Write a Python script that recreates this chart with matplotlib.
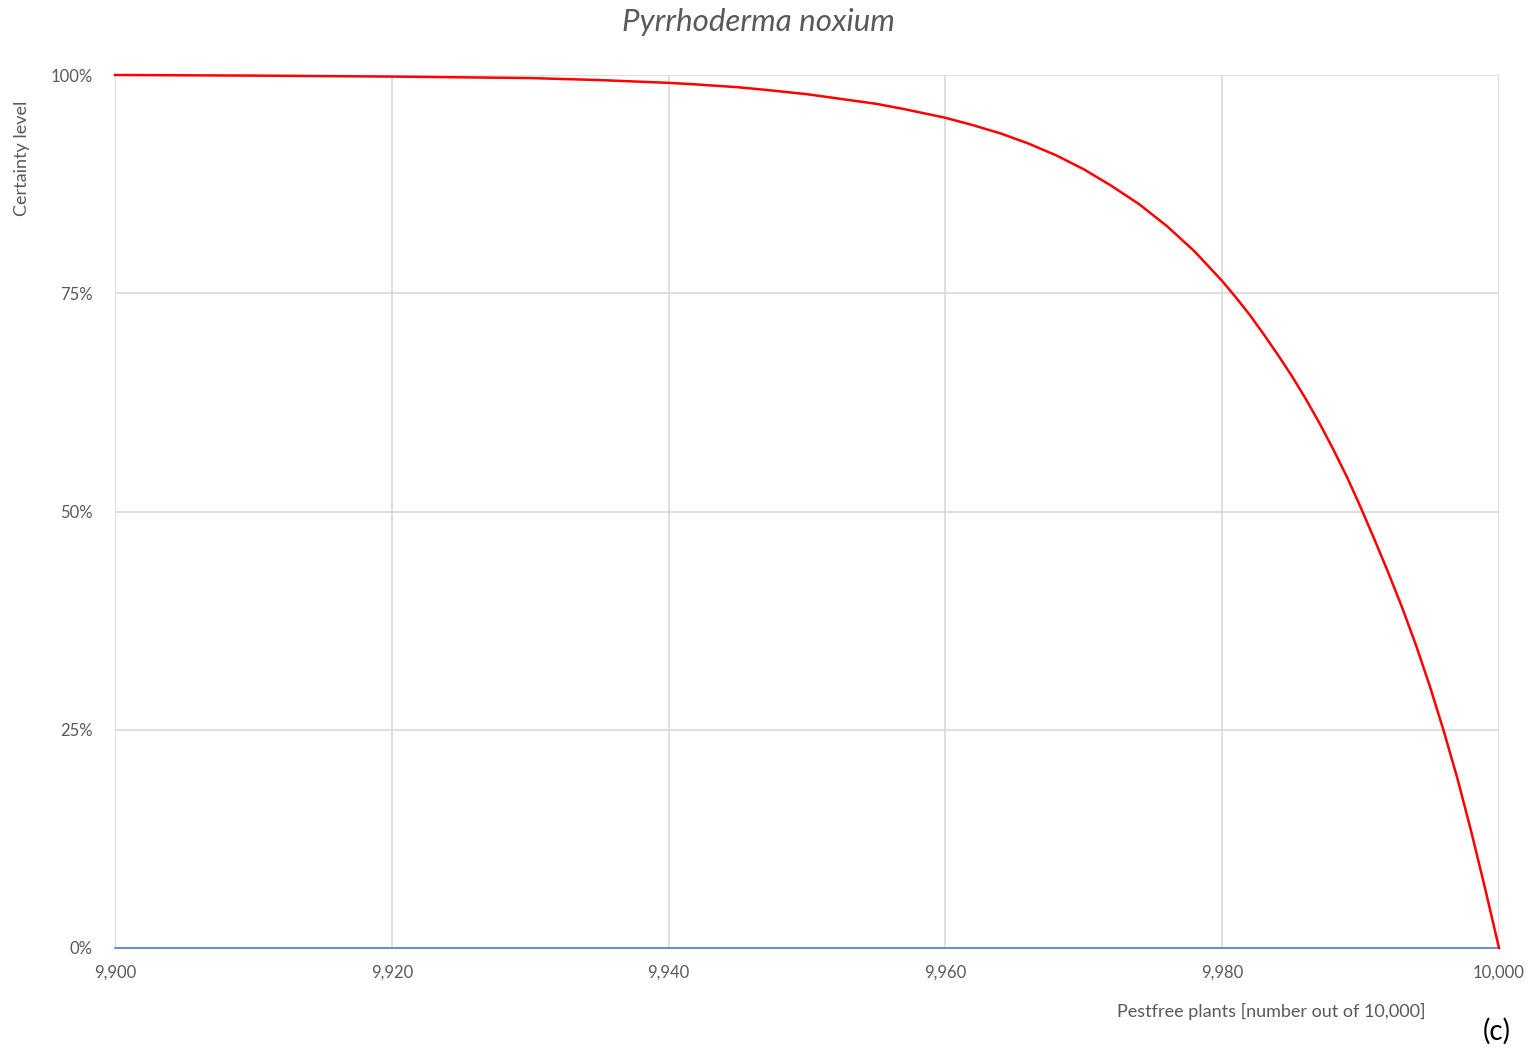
import matplotlib
matplotlib.use("Agg")
import matplotlib.pyplot as plt
from matplotlib.ticker import FuncFormatter, MultipleLocator

# values
pestfree = [9900, 9910, 9920, 9930, 9935, 9940, 9942, 9945, 9947, 9950, 9952,
            9955, 9957, 9960, 9962, 9964, 9966, 9968, 9970, 9972, 9974, 9976,
            9978, 9980, 9981, 9982, 9983, 9984, 9985, 9986, 9987, 9988, 9989,
            9990, 9991, 9992, 9993, 9994, 9995, 9996, 9997, 9998, 9999, 10000]
certainty = [100.0, 99.93, 99.82, 99.65, 99.42, 99.1, 98.92, 98.6, 98.3, 97.8, 97.36,
             96.7, 96.1, 95.1, 94.25, 93.3, 92.15, 90.8, 89.2, 87.3, 85.2, 82.7,
             79.8, 76.4, 74.5, 72.5, 70.3, 68.0, 65.6, 63.0, 60.2, 57.2, 54.0,
             50.5, 46.8, 43.0, 39.0, 34.7, 30.0, 24.9, 19.4, 13.3, 6.8, 0.0]
baseline = [0.0] * len(pestfree)

title = "Pyrrhoderma noxium"
x_label = "Pestfree plants [number out of 10,000]"
y_label = "Certainty level"
panel_tag = "(c)"

plt.rcParams['font.family'] = ['Lato', 'DejaVu Sans']
text_col = '#595959'
grid_col = '#D9D9D9'

W, H = 1529, 1048
fig = plt.figure(figsize=(W / 100, H / 100), dpi=100)
ax = fig.add_axes([115 / W, 1 - 948 / H, (1499 - 115) / W, (948 - 75) / H])

ax.plot(pestfree, baseline, color='#4472C4', lw=1.1, zorder=3, clip_on=False)
ax.plot(pestfree, certainty, color='#FF0000', lw=1.8, zorder=4, clip_on=False,
        solid_joinstyle='round')

ax.set_xlim(9900, 10000)
ax.set_ylim(0, 100)
ax.xaxis.set_major_locator(MultipleLocator(20))
ax.yaxis.set_major_locator(MultipleLocator(25))
ax.xaxis.set_major_formatter(FuncFormatter(lambda v, p: f"{v:,.0f}"))
ax.yaxis.set_major_formatter(FuncFormatter(lambda v, p: f"{v:.0f}%"))
ax.grid(True, color=grid_col, lw=1.2)
ax.set_axisbelow(True)
for s in ax.spines.values():
    s.set_visible(False)
ax.tick_params(length=0, labelsize=12, labelcolor=text_col)
ax.tick_params(axis='x', pad=12)
ax.tick_params(axis='y', pad=16)

fig.text(758 / W, 1 - 22 / H, title, ha='center', va='center',
         fontsize=22.5, style='italic', color=text_col)
fig.text(22 / W, 1 - 158 / H, y_label, ha='center', va='center',
         rotation=90, fontsize=13, color=text_col)
fig.text(1271 / W, 1 - 1011 / H, x_label, ha='center', va='center',
         fontsize=13, color=text_col)
fig.text(1497 / W, 1 - 1031 / H, panel_tag, ha='center', va='center',
         fontsize=20, color='black')

fig.savefig('out.png', dpi=100)
